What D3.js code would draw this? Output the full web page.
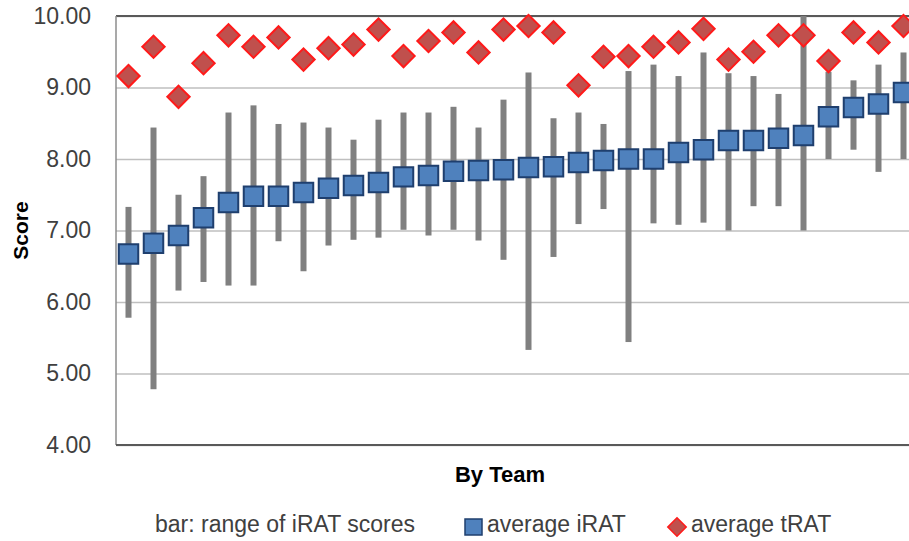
<!DOCTYPE html>
<html>
<head>
<meta charset="utf-8">
<script src="https://cdn.jsdelivr.net/npm/d3@7"></script>
<style>
  body { margin: 0; background: #fff; }
  text { font-family: "Liberation Sans", Arial, sans-serif; }
</style>
</head>
<body>
<div id="chart"></div>
<script>
// one entry per team, sorted by average iRAT
var teams = d3.range(1, 33).map(function (i) { return "Team " + i; });
var iratAvg = [6.67, 6.82, 6.93, 7.18, 7.39, 7.48, 7.48, 7.53, 7.59, 7.63, 7.67, 7.75, 7.77, 7.83, 7.84, 7.85,
               7.88, 7.89, 7.95, 7.98, 8.00, 8.00, 8.09, 8.13, 8.26, 8.26, 8.29, 8.33, 8.59, 8.72, 8.77, 8.93];
var iratMin = [5.78, 4.78, 6.16, 6.28, 6.23, 6.23, 6.85, 6.43, 6.79, 6.87, 6.90, 7.01, 6.93, 7.01, 6.86, 6.59,
               5.33, 6.63, 7.09, 7.30, 5.44, 7.10, 7.08, 7.11, 7.00, 7.34, 7.34, 7.00, 8.00, 8.13, 7.82, 8.00];
var iratMax = [7.33, 8.44, 7.50, 7.76, 8.65, 8.75, 8.49, 8.51, 8.44, 8.27, 8.55, 8.65, 8.65, 8.73, 8.44, 8.83,
               9.21, 8.57, 8.65, 8.49, 9.23, 9.32, 9.16, 9.49, 9.20, 9.16, 8.91, 10.00, 9.22, 9.10, 9.32, 9.49];
var tratAvg = [9.16, 9.57, 8.87, 9.34, 9.73, 9.57, 9.70, 9.39, 9.55, 9.60, 9.81, 9.44, 9.65, 9.77, 9.49, 9.81,
               9.86, 9.77, 9.03, 9.43, 9.44, 9.57, 9.63, 9.82, 9.39, 9.50, 9.73, 9.73, 9.37, 9.77, 9.63, 9.86];
var yTicks = [4, 5, 6, 7, 8, 9, 10];

var width = 909, height = 541;
var plotLeft = 116, plotRight = 916, plotTop = 16, plotBottom = 445;

var svg = d3.select("#chart").append("svg")
    .attr("width", width)
    .attr("height", height);

var x = d3.scaleBand().domain(teams).range([plotLeft, plotRight]).padding(0);
var y = d3.scaleLinear().domain([4, 10]).range([plotBottom, plotTop]);

// gridlines
svg.append("g")
    .attr("transform", "translate(" + plotLeft + ",0)")
    .call(d3.axisLeft(y).tickValues(yTicks).tickSize(-(plotRight - plotLeft)).tickFormat(""))
    .call(function (g) {
        g.select(".domain").remove();
        g.selectAll("line").attr("stroke", "#bfbfbf").attr("stroke-width", 1.5);
    });

// tick labels
svg.append("g")
    .attr("transform", "translate(" + plotLeft + ",0)")
    .call(d3.axisLeft(y).tickValues(yTicks).tickSize(0).tickPadding(25).tickFormat(d3.format(".2f")))
    .call(function (g) {
        g.select(".domain").remove();
        g.selectAll("text")
            .attr("font-size", 23)
            .attr("font-family", "'Liberation Sans', Arial, sans-serif")
            .attr("fill", "#404040");
    });

// plot frame
svg.append("line").attr("x1", plotLeft).attr("x2", width).attr("y1", plotTop).attr("y2", plotTop)
    .attr("stroke", "#595959").attr("stroke-width", 2);
svg.append("line").attr("x1", plotLeft).attr("x2", plotLeft).attr("y1", plotTop).attr("y2", plotBottom)
    .attr("stroke", "#8c8c8c").attr("stroke-width", 1.5);
svg.append("line").attr("x1", plotLeft).attr("x2", width).attr("y1", plotBottom).attr("y2", plotBottom)
    .attr("stroke", "#595959").attr("stroke-width", 2);

// range bars
svg.append("g").selectAll("rect")
    .data(teams)
    .enter().append("rect")
    .attr("x", function (d) { return x(d) + x.bandwidth() / 2 - 3; })
    .attr("width", 6)
    .attr("y", function (d, i) { return y(iratMax[i]); })
    .attr("height", function (d, i) { return y(iratMin[i]) - y(iratMax[i]); })
    .attr("fill", "#808080");

// average iRAT squares
var sq = d3.symbol().type(d3.symbolSquare).size(380);
svg.append("g").selectAll("path")
    .data(teams)
    .enter().append("path")
    .attr("d", sq)
    .attr("transform", function (d, i) {
        return "translate(" + (x(d) + x.bandwidth() / 2) + "," + y(iratAvg[i]) + ")";
    })
    .attr("fill", "#4f81bd")
    .attr("stroke", "#1f3f6e")
    .attr("stroke-width", 2);

// average tRAT diamonds
var dm = d3.symbol().type(d3.symbolSquare).size(250);
svg.append("g").selectAll("path")
    .data(teams)
    .enter().append("path")
    .attr("d", dm)
    .attr("transform", function (d, i) {
        return "translate(" + (x(d) + x.bandwidth() / 2) + "," + y(tratAvg[i]) + ") rotate(45)";
    })
    .attr("fill", "#c0504d")
    .attr("stroke", "#ff1a1a")
    .attr("stroke-width", 2);

// axis titles
svg.append("text")
    .attr("transform", "translate(28," + ((plotTop + plotBottom) / 2) + ") rotate(-90)")
    .attr("text-anchor", "middle")
    .attr("font-size", 21)
    .attr("font-weight", "bold")
    .attr("fill", "#000")
    .text("Score");
svg.append("text")
    .attr("x", 500)
    .attr("y", 482)
    .attr("text-anchor", "middle")
    .attr("font-size", 22)
    .attr("font-weight", "bold")
    .attr("fill", "#000")
    .text("By Team");

// legend
var legend = svg.append("g");
legend.append("text").attr("x", 155).attr("y", 532)
    .attr("font-size", 23).attr("fill", "#404040")
    .text("bar: range of iRAT scores");
legend.append("rect").attr("x", 465).attr("y", 519).attr("width", 17).attr("height", 16)
    .attr("fill", "#4f81bd").attr("stroke", "#1f3f6e").attr("stroke-width", 1.5);
legend.append("text").attr("x", 487).attr("y", 532)
    .attr("font-size", 23).attr("fill", "#404040")
    .text("average iRAT");
legend.append("path")
    .attr("d", d3.symbol().type(d3.symbolSquare).size(170))
    .attr("transform", "translate(677,527) rotate(45)")
    .attr("fill", "#c0504d").attr("stroke", "#ff1a1a").attr("stroke-width", 1.5);
legend.append("text").attr("x", 691).attr("y", 532)
    .attr("font-size", 23).attr("fill", "#404040")
    .text("average tRAT");
</script>
</body>
</html>
